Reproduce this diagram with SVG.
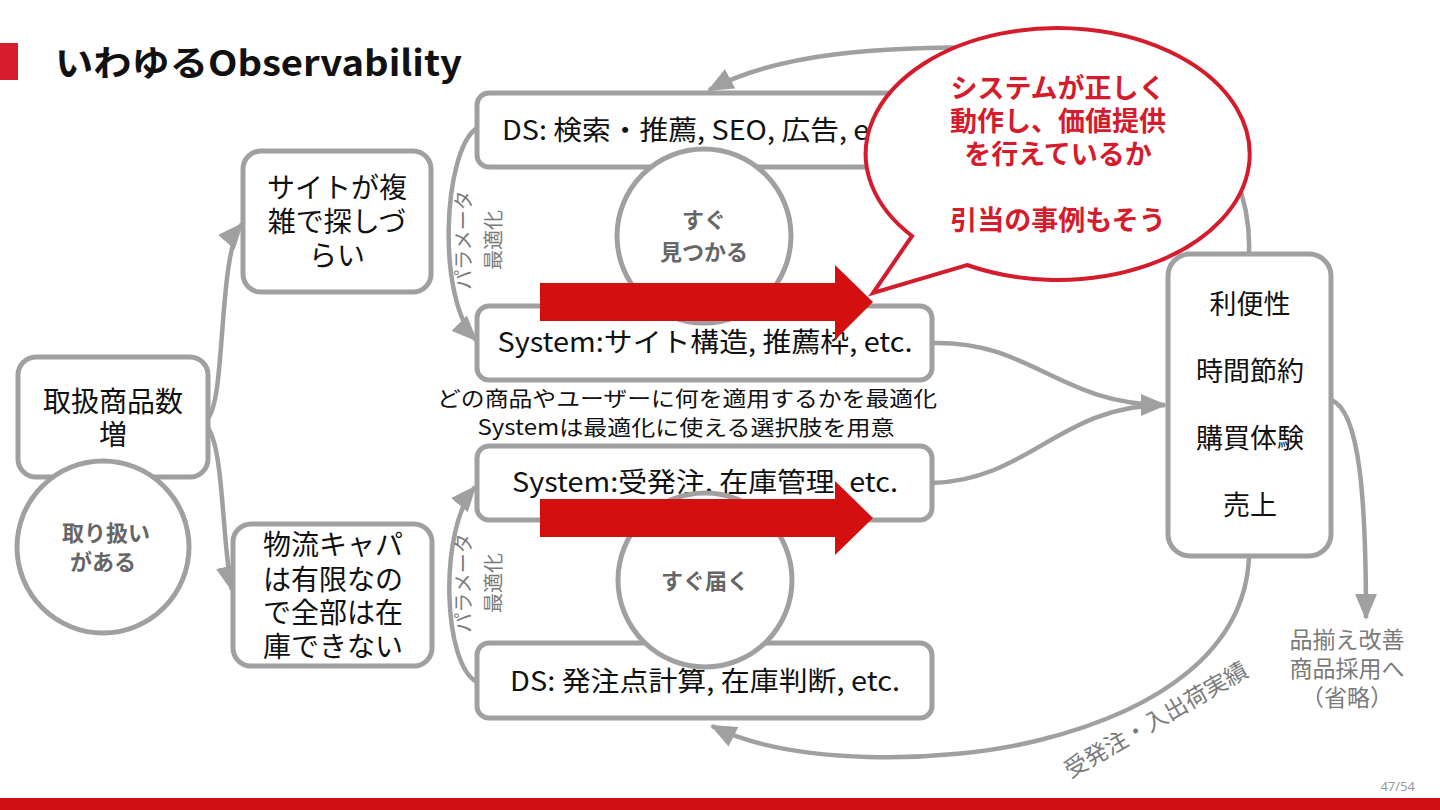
<svg xmlns="http://www.w3.org/2000/svg" width="1440" height="810" viewBox="0 0 1440 810">
<defs>
<marker id="ah" markerUnits="userSpaceOnUse" markerWidth="28" markerHeight="24" refX="24" refY="11" orient="auto">
<path d="M0,0 L26,11 L0,22 Z" fill="#a0a0a0"/>
</marker>
<style>
.box{fill:#fff;stroke:#a0a0a0;stroke-width:5}
.circ{fill:#fff;stroke:#a0a0a0;stroke-width:5}
.con{fill:none;stroke:#a0a0a0;stroke-width:4.5}
.t{font-family:"Noto Sans CJK JP","Noto Sans",sans-serif;fill:#111;text-anchor:middle}
.cb{font-family:"Noto Sans CJK JP",sans-serif;fill:#666;font-weight:bold;font-size:22px;text-anchor:middle}
.g{font-family:"Noto Sans CJK JP",sans-serif;fill:#7a7a7a;text-anchor:middle}
.rt{font-family:"Noto Sans CJK JP",sans-serif;fill:#d41c2c;font-weight:bold;font-size:27px;text-anchor:middle}
</style>
</defs>
<rect width="1440" height="810" fill="#fff"/>
<rect x="0" y="43" width="18" height="37" fill="#d41c2c"/>
<text x="55" y="76" font-family="Noto Sans CJK JP,sans-serif" font-weight="bold" font-size="35" fill="#111" textLength="407" lengthAdjust="spacingAndGlyphs">いわゆるObservability</text>
<rect x="0" y="798" width="1440" height="12" fill="#d00f14"/>
<text x="1415" y="791" font-family="Noto Sans,sans-serif" font-size="13" fill="#999" text-anchor="end">47/54</text>

<g id="connectors">
<path class="con" d="M208,418 C226,398 218,252 242,224" marker-end="url(#ah)"/>
<path class="con" d="M208,428 C224,450 222,545 232,590" marker-end="url(#ah)"/>
<path class="con" d="M477,128 C443,150 436,300 476,340" marker-end="url(#ah)"/>
<path class="con" d="M477,682 C443,665 438,530 475,487" marker-end="url(#ah)"/>
<path class="con" d="M932,343 C1030,340 1060,405 1165,405" marker-end="url(#ah)"/>
<path class="con" d="M932,483 C1030,480 1060,405 1165,405"/>
<path class="con" d="M1249,253 C1253,150 1170,47 1000,47 C880,47 780,52 709,90" marker-end="url(#ah)"/>
<path class="con" d="M1249,557 C1245,650 1160,710 1040,740 C940,765 790,765 712,726" marker-end="url(#ah)"/>
<path class="con" d="M1331,400 C1360,410 1366,500 1366,618" marker-end="url(#ah)"/>
<text class="g" font-size="23" transform="translate(1160,727) rotate(-30)">受発注・入出荷実績</text>
<text class="g" font-size="20" transform="translate(464,240) rotate(-90)" y="7">パラメータ</text>
<text class="g" font-size="20" transform="translate(494,240) rotate(-90)" y="7">最適化</text>
<text class="g" font-size="20" transform="translate(464,583) rotate(-90)" y="7">パラメータ</text>
<text class="g" font-size="20" transform="translate(494,583) rotate(-90)" y="7">最適化</text>
</g>

<g id="n_items">
<rect class="box" x="18" y="357" width="190" height="120" rx="18"/>
<text class="t" font-size="28" x="113" y="412">取扱商品数</text>
<text class="t" font-size="28" x="113" y="445">増</text>
</g>
<g id="c_handle">
<circle class="circ" cx="103" cy="547" r="86"/>
<text class="cb" x="106" y="541">取り扱い</text>
<text class="cb" x="103" y="570">がある</text>
</g>
<g id="n_site">
<rect class="box" x="243" y="151" width="188" height="141" rx="18"/>
<text class="t" font-size="28" x="337" y="198">サイトが複</text>
<text class="t" font-size="28" x="337" y="232">雑で探しづ</text>
<text class="t" font-size="28" x="337" y="266">らい</text>
</g>
<g id="n_logi">
<rect class="box" x="233" y="524" width="199" height="142" rx="18"/>
<text class="t" font-size="28" x="333" y="555">物流キャパ</text>
<text class="t" font-size="28" x="333" y="590">は有限なの</text>
<text class="t" font-size="28" x="333" y="623">で全部は在</text>
<text class="t" font-size="28" x="333" y="657">庫できない</text>
</g>
<g id="n_ds_search">
<rect class="box" x="477" y="93" width="455" height="74" rx="12"/>
<text class="t" font-size="27" x="502" y="140" style="text-anchor:start" textLength="400" lengthAdjust="spacingAndGlyphs">DS: 検索・推薦, SEO, 広告, etc.</text>
</g>
<g id="n_sys_site">
<rect class="box" x="477" y="306" width="455" height="74" rx="12"/>
<text class="t" font-size="27" x="705" y="352" textLength="415" lengthAdjust="spacingAndGlyphs">System:サイト構造, 推薦枠, etc.</text>
</g>
<g id="n_note">
<text class="t" font-size="21" x="687" y="406" fill="#222" textLength="500" lengthAdjust="spacingAndGlyphs">どの商品やユーザーに何を適用するかを最適化</text>
<text class="t" font-size="21" x="686" y="435" fill="#222" textLength="417" lengthAdjust="spacingAndGlyphs">Systemは最適化に使える選択肢を用意</text>
</g>
<g id="n_sys_order">
<rect class="box" x="477" y="446" width="455" height="74" rx="12"/>
<text class="t" font-size="27" x="705" y="492" textLength="386" lengthAdjust="spacingAndGlyphs">System:受発注, 在庫管理, etc.</text>
</g>
<g id="n_ds_order">
<rect class="box" x="477" y="643" width="455" height="75" rx="12"/>
<text class="t" font-size="27" x="705" y="691" textLength="390" lengthAdjust="spacingAndGlyphs">DS: 発注点計算, 在庫判断, etc.</text>
</g>
<g id="c_find">
<circle class="circ" cx="704" cy="236" r="87"/>
<text class="cb" x="704" y="228">すぐ</text>
<text class="cb" x="704" y="260">見つかる</text>
</g>
<g id="c_deliver">
<circle class="circ" cx="705" cy="580" r="87"/>
<text class="cb" x="705" y="589">すぐ届く</text>
</g>
<g id="n_value">
<rect class="box" x="1168" y="254" width="163" height="302" rx="22"/>
<text class="t" font-size="27" x="1250" y="314">利便性</text>
<text class="t" font-size="27" x="1250" y="381">時間節約</text>
<text class="t" font-size="27" x="1250" y="448">購買体験</text>
<text class="t" font-size="27" x="1250" y="515">売上</text>
</g>
<g id="n_assort">
<text class="g" font-size="23" x="1347" y="648">品揃え改善</text>
<text class="g" font-size="23" x="1347" y="677">商品採用へ</text>
<text class="g" font-size="23" x="1347" y="706">（省略）</text>
</g>
<g id="red_arrows" fill="#d40f0f">
<path d="M540,283 L835,283 L835,265 L873,302 L835,340 L835,321 L540,321 Z"/>
<path d="M540,499 L835,499 L835,481 L873,518 L835,555 L835,537 L540,537 Z"/>
</g>
<g id="bubble">
<path d="M912,236 L873,293 L967,265 A192,126 0 1 0 912,236 Z" fill="#fff" stroke="#d41c2c" stroke-width="4" stroke-linejoin="miter"/>
<text class="rt" x="1058" y="98">システムが正しく</text>
<text class="rt" x="1058" y="131">動作し、価値提供</text>
<text class="rt" x="1058" y="164">を行えているか</text>
<text class="rt" x="1058" y="230">引当の事例もそう</text>
</g>
</svg>
